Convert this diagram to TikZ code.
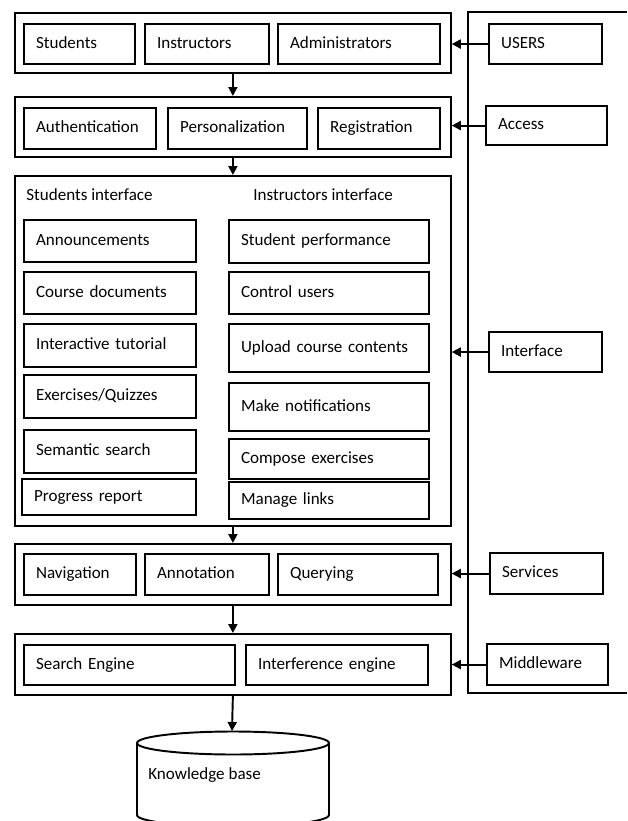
\documentclass[tikz,border=0pt]{standalone}
\usepackage{fontspec}
\setmainfont{Carlito}
\usetikzlibrary{arrows.meta}
\usetikzlibrary{calc}

\tikzset{
  cell/.style={draw, line width=1.2pt, anchor=north west, align=left,
    inner xsep=0.24cm, inner ysep=0pt, text height=6.8pt, text depth=2.2pt,
    font=\fontsize{9.7}{11}\selectfont},
  layer/.style={draw, line width=1pt, anchor=north west, inner sep=0pt},
  flow/.style={line width=1.1pt, -{Triangle[length=1.8mm,width=1.8mm]}},
  caption/.style={anchor=west, inner sep=0pt, font=\fontsize{9.7}{11}\selectfont},
}

% box from (x1,y1) to (x2,y2), in pixels of the picture
\newcommand{\boxnode}[7][cell]{%
  \pgfmathsetmacro\cwd{(#5-#3)*0.02}%
  \pgfmathsetmacro\cht{(#6-#4)*0.02}%
  \pgfmathsetmacro\ctw{max(\cwd-0.48,0.1)}%
  \node[#1, minimum width=\cwd cm, minimum height=\cht cm, text width=\ctw cm] (#2) at (#3,#4) {#7};
}

\begin{document}
\begin{tikzpicture}[x=0.02cm, y=-0.02cm]
  \useasboundingbox (0,0) rectangle (627,821);

  % layers
  \boxnode[layer]{layerA}{14}{12}{450}{72}{}
  \boxnode[layer]{layerB}{14}{96}{450}{156}{}
  \boxnode[layer]{layerC}{14}{175}{450}{525}{}
  \boxnode[layer]{layerD}{14}{543}{450}{604}{}
  \boxnode[layer]{layerE}{14}{633}{450}{694}{}

  % users
  \boxnode{stud}{23}{23}{134}{63}{Students}
  \boxnode{instr}{144}{23}{268}{63}{Instructors}
  \boxnode{admin}{277}{23}{439}{63}{Administrators}

  % access
  \boxnode{auth}{23}{107}{155}{148}{Authentication}
  \boxnode{pers}{167}{107}{306}{148}{Personalization}
  \boxnode{reg}{317}{107}{439}{148}{Registration}

  % interface
  \node[caption] (sihead) at (26,195) {Students interface};
  \node[caption] (iihead) at (253,195) {Instructors interface};
  \boxnode{ann}{23}{219}{195}{261}{Announcements}
  \boxnode{cdoc}{23}{271}{195}{313}{Course documents}
  \boxnode{tut}{23}{323}{195}{366}{Interactive tutorial}
  \boxnode{quiz}{23}{374}{195}{417}{Exercises/Quizzes}
  \boxnode{sem}{23}{429}{195}{472}{Semantic search}
  \boxnode{prog}{21}{478}{195}{514}{Progress report}
  \boxnode{perf}{228}{219}{428}{262}{Student performance}
  \boxnode{ctrl}{228}{271}{428}{313}{Control users}
  \boxnode{upl}{228}{323}{428}{371}{Upload course contents}
  \boxnode{notif}{228}{382}{428}{430}{Make notifications}
  \boxnode{comp}{228}{438}{428}{478}{Compose exercises}
  \boxnode{links}{228}{481}{428}{518}{Manage links}

  % services
  \boxnode{nav}{23}{553}{135}{594}{Navigation}
  \boxnode{annot}{144}{553}{268}{594}{Annotation}
  \boxnode{query}{277}{553}{437}{594}{Querying}

  % middleware
  \boxnode{search}{23}{644}{234}{684}{Search Engine}
  \boxnode{infer}{245}{644}{427}{684}{Interference engine}

  % right panel
  \draw[line width=0.8pt] (627,12) -- (468,12) -- (468,693) -- (627,693);
  \boxnode{users}{488}{23}{601}{63}{USERS}
  \boxnode{access}{485}{105}{606}{144}{Access}
  \boxnode{iface}{488}{331}{601}{371}{Interface}
  \boxnode{serv}{489}{552}{602}{593}{Services}
  \boxnode{mid}{486}{643}{607}{684}{Middleware}

  \draw[flow] (users.west) -- (users.west -| layerA.east);
  \draw[flow] (access.west) -- (access.west -| layerB.east);
  \draw[flow] (iface.west) -- (iface.west -| layerC.east);
  \draw[flow] (serv.west) -- (serv.west -| layerD.east);
  \draw[flow] (mid.west) -- (mid.west -| layerE.east);

  % knowledge base
  \coordinate (kbtop) at (232,731);
  \draw[line width=1.1pt] (233,743) ellipse [x radius=1.92cm, y radius=0.23cm];
  \draw[line width=1.1pt] (137,743) -- (137,815)
    arc [start angle=180, end angle=360, x radius=1.92cm, y radius=0.23cm]
    -- (329,743);
  \node[caption] (kb) at (148,775) {Knowledge base};

  \draw[flow] (layerA.south) -- (layerB.north);
  \draw[flow] (layerB.south) -- (layerC.north);
  \draw[flow] (layerC.south) -- (layerD.north);
  \draw[flow] (layerD.south) -- (layerE.north);
  \draw[flow] (layerE.south) -- (kbtop);
\end{tikzpicture}
\end{document}
